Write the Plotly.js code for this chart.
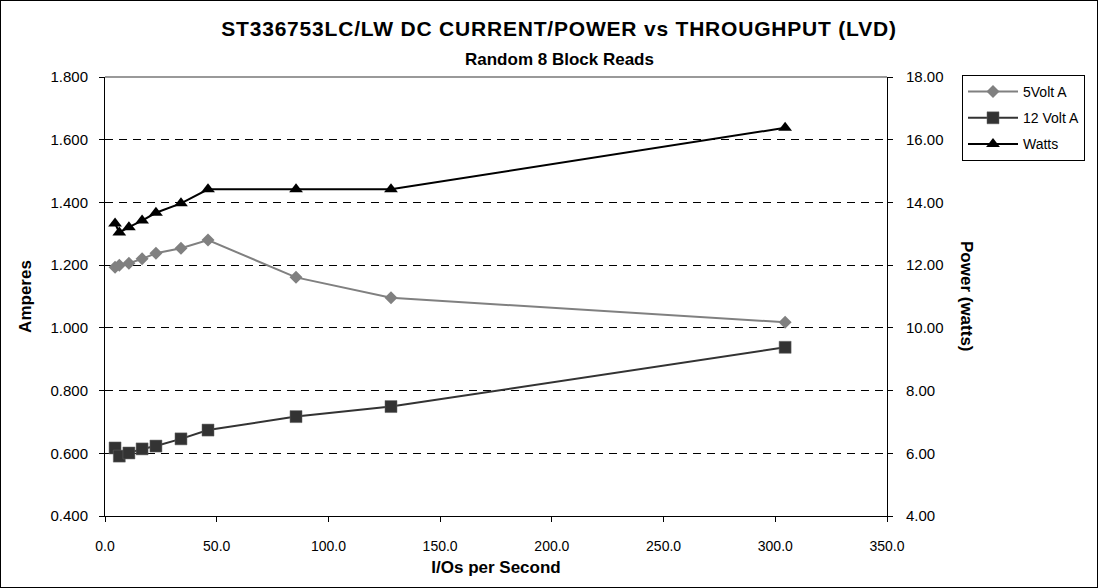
<!DOCTYPE html>
<html>
<head>
<meta charset="utf-8">
<script src="https://cdn.plot.ly/plotly-3.0.1.min.js"></script>
<style>
  html, body { margin: 0; padding: 0; background: #fff; }
  #wrap { position: absolute; left: 0; top: 0; width: 1096px; height: 586px; border: 1px solid #000; overflow: hidden; }
  #chart { width: 1096px; height: 586px; }
  #chart .gtitle { letter-spacing: 0.8px; }
</style>
</head>
<body>
<div id="wrap"><div id="chart"></div></div>
<script>
// Data
const iops      = [4.5, 6.4, 10.7, 16.6, 22.8, 34.0, 46.1, 85.5, 128.0, 304.4];
const volt5A    = [1.193, 1.200, 1.206, 1.220, 1.238, 1.254, 1.280, 1.161, 1.096, 1.018];
const volt12A   = [0.617, 0.591, 0.601, 0.614, 0.623, 0.646, 0.674, 0.717, 0.749, 0.938];
const watts     = [13.33, 13.04, 13.21, 13.42, 13.67, 13.97, 14.42, 14.42, 14.42, 16.38];
const seriesNames = ["5Volt A", "12 Volt A", "Watts"];

const FONT = "Liberation Sans, Arial, sans-serif";

const traces = [
  {
    x: iops, y: volt5A, name: seriesNames[0], type: "scatter", mode: "lines+markers",
    legendgroup: "a",
    line: { color: "#808080", width: 2 },
    marker: { symbol: "diamond", size: 10, color: "#808080" },
    yaxis: "y"
  },
  {
    x: iops, y: volt12A, name: seriesNames[1], type: "scatter", mode: "lines+markers",
    legendgroup: "b",
    line: { color: "#333333", width: 2 },
    marker: { symbol: "square", size: 12, color: "#333333", line: { color: "#666", width: 0.5 } },
    yaxis: "y"
  },
  {
    x: iops, y: watts, name: seriesNames[2], type: "scatter", mode: "lines+markers",
    legendgroup: "c",
    line: { color: "#000000", width: 2 },
    marker: { symbol: "triangle-up", size: 12, color: "#000000" },
    yaxis: "y2"
  }
];

const layout = {
  width: 1096, height: 586,
  paper_bgcolor: "#fff", plot_bgcolor: "#fff",
  margin: { l: 104, r: 210, t: 76, b: 71, autoexpand: false },
  font: { family: FONT, size: 13, color: "#000" },
  showlegend: true,
  title: {
    text: "<b>ST336753LC/LW DC CURRENT/POWER vs THROUGHPUT (LVD)</b>",
    font: { family: FONT, size: 21, color: "#000" },
    x: (559 - 1) / 1096, xref: "container", xanchor: "center",
    y: 1 - 28 / 586, yref: "container", yanchor: "middle"
  },
  annotations: [
    {
      text: "<b>Random 8 Block Reads</b>",
      xref: "paper", yref: "paper",
      x: (558 - 104) / 782, y: (515 - 58) / 439,
      xanchor: "center", yanchor: "middle", showarrow: false,
      font: { family: FONT, size: 17, color: "#000" }
    },
    {
      text: "<b>Power (watts)</b>",
      xref: "paper", yref: "paper",
      x: (966 - 104) / 782, y: (515 - 295) / 439,
      xanchor: "center", yanchor: "middle", showarrow: false, textangle: 90,
      font: { family: FONT, size: 17, color: "#000" }
    }
  ],
  xaxis: {
    range: [0, 350], dtick: 50, tick0: 0, tickformat: ".1f",
    showline: true, linecolor: "#000", linewidth: 1,
    ticks: "outside", ticklen: 5, tickcolor: "#000",
    showgrid: false, zeroline: false, automargin: false,
    ticklabelstandoff: 12,
    tickfont: { family: FONT, size: 14 },
    title: { text: "<b>I/Os per Second</b>", font: { family: FONT, size: 17 }, standoff: 8 }
  },
  yaxis: {
    range: [0.4, 1.8], dtick: 0.2, tick0: 0.4, tickformat: ".3f",
    showline: true, linecolor: "#000", linewidth: 1,
    ticks: "outside", ticklen: 5, tickcolor: "#000",
    showgrid: true, gridcolor: "#000", gridwidth: 1, griddash: "8px,6px",
    zeroline: false, automargin: false,
    ticklabelstandoff: 8,
    tickfont: { family: FONT, size: 15 },
    title: { text: "<b>Amperes</b>", font: { family: FONT, size: 17 }, standoff: 14 }
  },
  yaxis2: {
    overlaying: "y", side: "right",
    range: [4, 18], dtick: 2, tick0: 4, tickformat: ".2f",
    showline: true, linecolor: "#000", linewidth: 1,
    ticks: "outside", ticklen: 5, tickcolor: "#000",
    showgrid: false, zeroline: false, automargin: false,
    ticklabelstandoff: 10,
    tickfont: { family: FONT, size: 15 }
  },
  legend: {
    xref: "container", yref: "container",
    x: 961 / 1096, y: 1 - 74 / 586,
    xanchor: "left", yanchor: "top",
    bordercolor: "#000", borderwidth: 1, bgcolor: "#fff",
    font: { family: FONT, size: 14, color: "#000" },
    itemwidth: 50,
    tracegroupgap: 5, traceorder: "grouped"
  },
  shapes: [
    {
      type: "line", xref: "paper", yref: "paper",
      x0: 0, x1: 1, y0: 1, y1: 1,
      line: { color: "#999999", width: 2 }, layer: "above"
    }
  ]
};

Plotly.newPlot("chart", traces, layout, { displayModeBar: false, staticPlot: true });
</script>
</body>
</html>
